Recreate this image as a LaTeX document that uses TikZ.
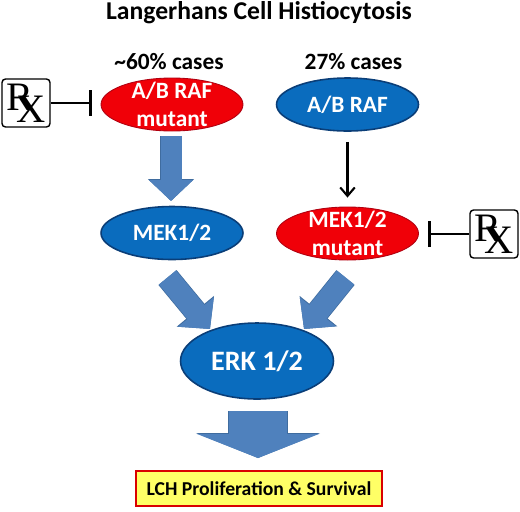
\documentclass[tikz,border=0pt]{standalone}
\usepackage{fontspec}
\setmainfont{Carlito}
\newfontfamily\rxfont{Liberation Serif}
\usepackage{xcolor}
\usetikzlibrary{shapes.geometric,arrows.meta}

\definecolor{wtblue}{HTML}{0A6CBE}
\definecolor{wtline}{HTML}{0A3E78}
\definecolor{mutred}{HTML}{F00008}
\definecolor{mutline}{HTML}{B00010}
\definecolor{blockfill}{HTML}{4F81BD}
\definecolor{blockline}{HTML}{3F6C9F}
\definecolor{resultfill}{HTML}{FFFF66}

\begin{document}
\begin{tikzpicture}[
  x=0.02cm, y=-0.02cm,
  every node/.style={font=\bfseries\fontsize{13.3}{16}\selectfont},
  wt/.style  ={ellipse, draw=wtline,  fill=wtblue, text=white, line width=0.9pt, minimum width=2.84cm, minimum height=1.06cm, inner sep=-8pt, align=center},
  mut/.style ={ellipse, draw=mutline, fill=mutred, text=white, line width=0.5pt, minimum width=2.84cm, minimum height=1.06cm, inner sep=-8pt, align=center},
  rxbox/.style={draw=black, rounded corners=2pt, line width=0.8pt, minimum size=0.96cm, inner sep=0pt},
  inh/.style ={-{Bar[width=0.52cm,line width=1.6pt]}, line width=1.2pt, shorten >=0.18cm},
  thinarr/.style={-{Straight Barb[length=1.7mm,width=2.9mm]}, line width=1.2pt, shorten <=0.2cm, shorten >=0.18cm},
  sarr/.style={line width=0.44cm, -{Triangle[length=0.44cm,width=0.9cm]},
    preaction={draw=blockline, line width=0.47cm, -{Triangle[length=0.46cm,width=0.94cm]}},
    draw=blockfill},
  barr/.style={line width=0.42cm, -{Triangle[length=0.42cm,width=0.86cm]},
    preaction={draw=blockline, line width=0.45cm, -{Triangle[length=0.44cm,width=0.9cm]}},
    draw=blockfill},
  warr/.style={line width=1.16cm, -{Triangle[length=0.48cm,width=2.42cm]},
    preaction={draw=blockline, line width=1.19cm, -{Triangle[length=0.5cm,width=2.47cm]}},
    draw=blockfill},
]
\useasboundingbox (0,0) rectangle (520,511);

% titles
\node[font=\bfseries\fontsize{14.6}{16}\selectfont] (title) at (259,13) {Langerhans Cell Histiocytosis};
\node (pctL) at (169,62) {\textasciitilde 60\% cases};
\node (pctR) at (353.5,62) {27\% cases};

% ellipses
\node[mut] (rafM) at (172,104.5) {A/B RAF\\mutant};
\node[wt]  (rafW) at (347.5,104.5) {A/B RAF};
\node[wt]  (mekW) at (172,233) {MEK1/2};
\node[mut] (mekM) at (347.5,233.5) {MEK1/2\\mutant};
\node[wt, minimum width=3.06cm, minimum height=1.52cm, font=\bfseries\fontsize{16}{20}\selectfont] (erk) at (257,361) {ERK 1/2};

% result box
\node[draw=red!85!black, fill=resultfill, line width=0.9pt, minimum width=4.92cm, minimum height=0.7cm, inner sep=0pt, font=\bfseries\fontsize{11.2}{14}\selectfont] (lch) at (259,488.5) {LCH Proliferation \& Survival};

% Rx boxes
\node[rxbox] (rxL) at (26,103) {\rxfont\mdseries\fontsize{23}{23}\selectfont R\kern-10pt\raisebox{-7pt}{X}};
\node[rxbox] (rxR) at (494,234) {\rxfont\mdseries\fontsize{23}{23}\selectfont R\kern-10pt\raisebox{-7pt}{X}};

% inhibition
\draw[inh] (rxL.east) -- (rxL.east -| rafM.west);
\draw[inh] (rxR.west) -- (rxR.west -| mekM.east);

% thin arrow
\draw[thinarr] (rafW.south) -- (mekM.north);

%% block arrows
\coordinate (tailA) at (171,136);
\coordinate (tipA)  at (171,201);
\draw[barr] (tailA) -- (tipA);

\coordinate (tailL) at (167.5,277.5);
\coordinate (tipL)  at (210,329);
\draw[sarr] (tailL) -- (tipL);

\coordinate (tailR) at (345.5,277.5);
\coordinate (tipR)  at (304,329);
\draw[sarr] (tailR) -- (tipR);

\coordinate (tailD) at (258,411);
\coordinate (tipD)  at (258,458);
\draw[warr] (tailD) -- (tipD);

\end{tikzpicture}
\end{document}
